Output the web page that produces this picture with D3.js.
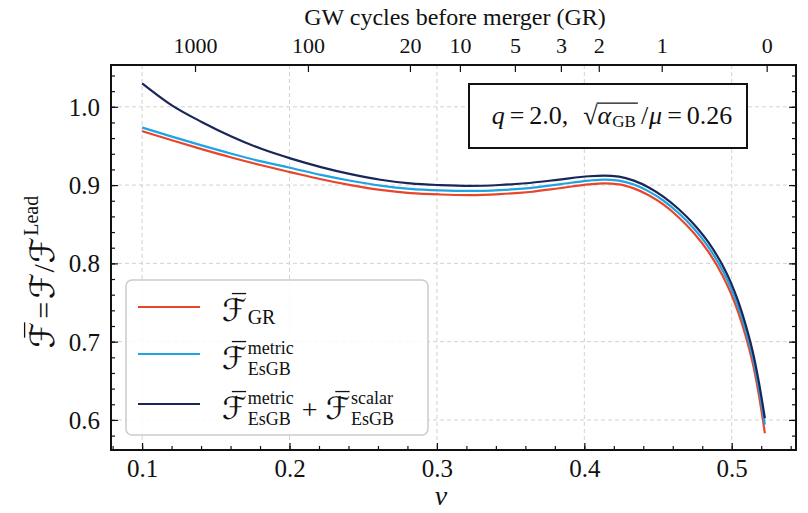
<!DOCTYPE html>
<html>
<head>
<meta charset="utf-8">
<script src="https://cdn.jsdelivr.net/npm/d3@7"></script>
<style>
  body { margin: 0; background: #fff; }
</style>
</head>
<body>
<div id="container"></div>
<script>
// orbital velocity v
var vGrid = [0.1000, 0.1202, 0.1404, 0.1606, 0.1809, 0.2011, 0.2213, 0.2415, 0.2617, 0.2819,
             0.3022, 0.3224, 0.3426, 0.3628, 0.3830, 0.4032, 0.4133, 0.4235, 0.4336, 0.4437,
             0.4538, 0.4639, 0.4740, 0.4841, 0.4942, 0.4993, 0.5043, 0.5094, 0.5145, 0.5185, 0.5225];
// normalised flux, GR
var fluxGR = [0.9690, 0.9572, 0.9459, 0.9352, 0.9253, 0.9163, 0.9075, 0.9000, 0.8938, 0.8898,
              0.8880, 0.8873, 0.8885, 0.8912, 0.8960, 0.9010, 0.9023, 0.9010, 0.8958, 0.8870,
              0.8750, 0.8590, 0.8395, 0.8150, 0.7830, 0.7625, 0.7380, 0.7075, 0.6705, 0.6310, 0.5830];
// EsGB metric part
var fluxMetric = [0.9735, 0.9619, 0.9507, 0.9401, 0.9303, 0.9218, 0.9130, 0.9055, 0.8993, 0.8951,
                  0.8932, 0.8925, 0.8936, 0.8962, 0.9010, 0.9058, 0.9071, 0.9058, 0.9007, 0.8920,
                  0.8800, 0.8643, 0.8451, 0.8210, 0.7895, 0.7693, 0.7451, 0.7150, 0.6783, 0.6400, 0.5940];
// EsGB metric + scalar
var fluxTotal = [1.0300, 1.0019, 0.9807, 0.9621, 0.9463, 0.9338, 0.9230, 0.9140, 0.9068, 0.9021,
                 0.9000, 0.8990, 0.9001, 0.9027, 0.9070, 0.9113, 0.9121, 0.9108, 0.9057, 0.8970,
                 0.8850, 0.8695, 0.8506, 0.8270, 0.7960, 0.7761, 0.7521, 0.7220, 0.6853, 0.6473, 0.6021];

var xTicks = [0.1, 0.2, 0.3, 0.4, 0.5];
var yTicks = [0.6, 0.7, 0.8, 0.9, 1.0];
var cycleLabels = ["1000", "100", "20", "10", "5", "3", "2", "1", "0"];
var cycleV = [0.1359, 0.2125, 0.2817, 0.3156, 0.3529, 0.3841, 0.4098, 0.4525, 0.5237];

var series = [
  {name: "GR", values: fluxGR, color: "#e8462b"},
  {name: "metric", values: fluxMetric, color: "#1ea3e3"},
  {name: "total", values: fluxTotal, color: "#1a2658"}
];

const SERIF = "'Liberation Serif', 'DejaVu Serif', serif";
const width = 808, height = 513;
const plot = {left: 111, right: 796, top: 65, bottom: 450};

const x = d3.scaleLinear().domain([0.0789, 0.5436]).range([plot.left, plot.right]);
const y = d3.scaleLinear().domain([0.5616, 1.0534]).range([plot.bottom, plot.top]);

const svg = d3.select("#container").append("svg")
    .attr("width", width)
    .attr("height", height);

// write one piece of text, return its width
function put(g, str, x0, y0, size, kind) {
  const t = g.append("text")
      .attr("x", x0).attr("y", y0)
      .style("font-family", SERIF)
      .style("font-size", size + "px")
      .style("fill", "#111")
      .text(str);
  if (kind == "it") t.style("font-style", "italic");
  if (kind == "scr") t.style("font-family", "'DejaVu Sans', sans-serif").style("font-size", (size * 1.12) + "px");
  return t.node().getComputedTextLength();
}

// little math layout: bars, sub and superscripts
function mathRun(g, x0, y0, size, items, small) {
  small = small || size * 0.7;
  let cx = x0;
  const xs = [];
  items.forEach(it => {
    const start = cx;
    const w = put(g, it.t, cx, y0, size, it.f || "rm");
    if (it.bar) {
      g.append("line")
          .attr("x1", cx + w * 0.4).attr("x2", cx + w * 0.98)
          .attr("y1", y0 - size * 0.98).attr("y2", y0 - size * 0.98)
          .attr("stroke", "#111").attr("stroke-width", 1.3);
    }
    cx += w;
    let ws = 0;
    if (it.sup) ws = Math.max(ws, put(g, it.sup, cx + 1, y0 - size * 0.54, small, "rm"));
    if (it.sub) ws = Math.max(ws, put(g, it.sub, cx + 1, y0 + (it.sup ? size * 0.2 : size * 0.1), small, "rm"));
    if (ws) cx += ws + 1;
    xs.push([start, cx]);
    cx += (it.after || 0);
  });
  return {w: cx - x0, xs: xs};
}

// grid
svg.append("g")
  .selectAll("line")
  .data(xTicks)
  .join("line")
    .attr("x1", d => x(d)).attr("x2", d => x(d))
    .attr("y1", plot.top).attr("y2", plot.bottom)
    .attr("stroke", "#d2d2d2").attr("stroke-dasharray", "4,3");
svg.append("g")
  .selectAll("line")
  .data(yTicks)
  .join("line")
    .attr("x1", plot.left).attr("x2", plot.right)
    .attr("y1", d => y(d)).attr("y2", d => y(d))
    .attr("stroke", "#d2d2d2").attr("stroke-dasharray", "4,3");

// curves
const line = d3.line()
    .x((d, i) => x(vGrid[i]))
    .y(d => y(d))
    .curve(d3.curveMonotoneX);

svg.append("g")
  .selectAll("path")
  .data(series)
  .join("path")
    .attr("d", d => line(d.values))
    .attr("fill", "none")
    .attr("stroke", d => d.color)
    .attr("stroke-width", 2.2);

// axes
function styleAxis(g) {
  g.select(".domain").remove();
  g.attr("color", "#111").attr("font-family", null);
  g.selectAll(".tick line").attr("stroke-width", 1.2);
  g.selectAll("text")
      .style("font-family", SERIF)
      .style("font-size", "25px")
      .style("fill", "#111");
}

svg.append("g")
    .attr("transform", "translate(0," + plot.bottom + ")")
    .call(d3.axisBottom(x).ticks(20).tickSize(-4).tickFormat(""))
    .call(styleAxis);
svg.append("g")
    .attr("transform", "translate(0," + plot.bottom + ")")
    .call(d3.axisBottom(x).tickValues(xTicks).tickSize(-7).tickFormat(d3.format(".1f")))
    .call(styleAxis)
  .selectAll("text")
    .attr("y", 27).attr("dy", null);

svg.append("g")
    .attr("transform", "translate(" + plot.left + ",0)")
    .call(d3.axisLeft(y).ticks(20).tickSize(-4).tickFormat(""))
    .call(styleAxis);
svg.append("g")
    .attr("transform", "translate(" + plot.left + ",0)")
    .call(d3.axisLeft(y).tickValues(yTicks).tickSize(-7).tickPadding(11).tickFormat(d3.format(".1f")))
    .call(styleAxis)
  .selectAll("text")
    .attr("dy", "0.34em");

svg.append("g")
    .attr("transform", "translate(" + plot.right + ",0)")
    .call(d3.axisRight(y).ticks(20).tickSize(-4).tickFormat(""))
    .call(styleAxis);
svg.append("g")
    .attr("transform", "translate(" + plot.right + ",0)")
    .call(d3.axisRight(y).tickValues(yTicks).tickSize(-7).tickFormat(""))
    .call(styleAxis);

svg.append("g")
    .attr("transform", "translate(0," + plot.top + ")")
    .call(d3.axisTop(x).tickValues(cycleV).tickSize(-7).tickFormat((d, i) => cycleLabels[i]))
    .call(styleAxis)
  .selectAll("text")
    .attr("y", -12).attr("dy", null)
    .style("font-size", "22px");

// frame
svg.append("rect")
    .attr("x", plot.left).attr("y", plot.top)
    .attr("width", plot.right - plot.left).attr("height", plot.bottom - plot.top)
    .attr("fill", "none").attr("stroke", "#111").attr("stroke-width", 2);

// axis titles
svg.append("text")
    .attr("x", 455).attr("y", 25)
    .attr("text-anchor", "middle")
    .style("font-family", SERIF).style("font-size", "24px").style("fill", "#111")
    .text("GW cycles before merger (GR)");
svg.append("text")
    .attr("x", 441).attr("y", 505)
    .attr("text-anchor", "middle")
    .style("font-family", SERIF).style("font-size", "28px").style("font-style", "italic").style("fill", "#111")
    .text("v");

const ylab = svg.append("g");
const yl = mathRun(ylab, 0, 0, 30, [
  {t: "ℱ", f: "scr", bar: true, after: 3},
  {t: "=", after: 3},
  {t: "ℱ", f: "scr"},
  {t: "/", after: 1},
  {t: "ℱ", f: "scr", sup: "Lead"}
], 20);
ylab.attr("transform", "translate(54," + (272 + yl.w / 2) + ") rotate(-90)");

// annotation box
svg.append("rect")
    .attr("x", 469).attr("y", 84).attr("width", 278).attr("height", 64)
    .attr("fill", "#fff").attr("stroke", "#111").attr("stroke-width", 2);
const ann = svg.append("g");
const an = mathRun(ann, 0, 124, 26, [
  {t: "q", f: "it", after: 5},
  {t: "=", after: 5},
  {t: "2.0,", after: 15},
  {t: "√"},
  {t: "α", f: "it", sub: "GB", after: 5},
  {t: "/", after: 1},
  {t: "μ", f: "it", after: 5},
  {t: "=", after: 5},
  {t: "0.26"}
], 17);
ann.append("line")
    .attr("x1", an.xs[3][1] - 1).attr("x2", an.xs[4][1] + 2)
    .attr("y1", 124 - 26 * 0.8).attr("y2", 124 - 26 * 0.8)
    .attr("stroke", "#111").attr("stroke-width", 1.2);
ann.attr("transform", "translate(" + (612 - an.w / 2) + ",0)");

// legend
const lg = svg.append("g");
lg.append("rect")
    .attr("x", 126).attr("y", 280).attr("width", 302).attr("height", 155).attr("rx", 6)
    .attr("fill", "#fff").attr("fill-opacity", 0.85)
    .attr("stroke", "#cccccc").attr("stroke-width", 1.5);
const rows = [307, 354, 404];
lg.selectAll(".key")
  .data(series)
  .join("line")
    .attr("x1", 138).attr("x2", 200)
    .attr("y1", (d, i) => rows[i]).attr("y2", (d, i) => rows[i])
    .attr("stroke", d => d.color).attr("stroke-width", 2.2);
mathRun(lg, 222, rows[0] + 14, 28, [{t: "ℱ", f: "scr", bar: true, sub: "GR"}], 20);
mathRun(lg, 222, rows[1] + 15, 28, [{t: "ℱ", f: "scr", bar: true, sup: "metric", sub: "EsGB"}], 18);
mathRun(lg, 222, rows[2] + 15, 28, [
  {t: "ℱ", f: "scr", bar: true, sup: "metric", sub: "EsGB", after: 8},
  {t: "+", after: 8},
  {t: "ℱ", f: "scr", bar: true, sup: "scalar", sub: "EsGB"}
], 18);
</script>
</body>
</html>
